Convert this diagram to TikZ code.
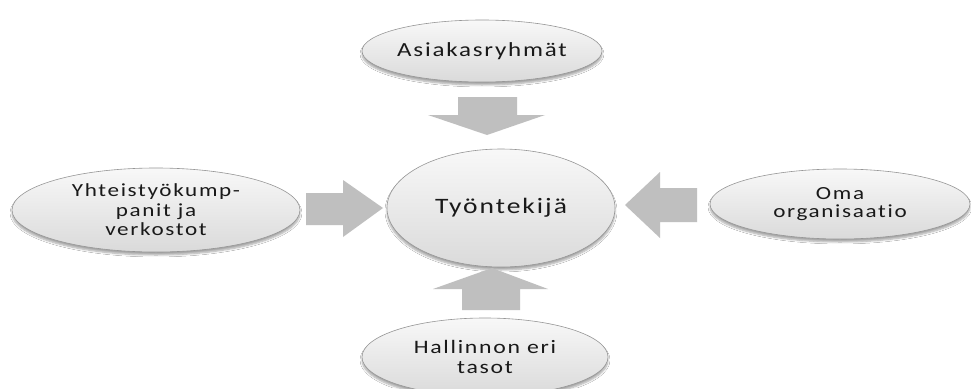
\documentclass[tikz,border=0pt]{standalone}
\usepackage{fontspec}
\setmainfont{Carlito}[FakeStretch=1.25,LetterSpace=9,Ligatures={NoCommon}]
\usetikzlibrary{shapes.geometric,shadows.blur}
\definecolor{arrowgray}{RGB}{191,191,191}
\definecolor{rimgray}{RGB}{150,150,150}
\definecolor{inkgray}{RGB}{25,25,25}
\definecolor{topfill}{RGB}{248,248,248}
\definecolor{bottomfill}{RGB}{218,218,218}
\begin{document}
\begin{tikzpicture}[x=1pt,y=-1pt,
  bubble/.style={ellipse, draw=rimgray, line width=0.6pt,
    top color=topfill, bottom color=bottomfill,
    blur shadow={shadow xshift=0pt, shadow yshift=-3pt, shadow blur steps=6, shadow opacity=35},
    text=inkgray, align=center, inner sep=0pt},
  blockarrow/.style={fill=arrowgray, draw=none}]
\useasboundingbox (0,0) rectangle (971,388);
\clip (0,0) rectangle (971,388);
\fill[white] (0,0) rectangle (971,388);

% surrounding bubbles
\node[bubble, minimum width=240pt, minimum height=62pt, font=\fontsize{20}{22}\selectfont]
  (asiakas) at (482,51) {Asiakasryhmät};
\node[bubble, minimum width=228pt, minimum height=118pt, font=\fontsize{22}{24}\selectfont]
  (tyontekija) at (501,208) {Työntekijä};
\node[bubble, minimum width=288pt, minimum height=84pt, font=\fontsize{18.5}{19.5}\selectfont]
  (yhteistyo) at (156,210) {Yhteistyökump-\\panit ja\\verkostot};
\node[bubble, minimum width=260pt, minimum height=70pt, font=\fontsize{18.5}{18}\selectfont]
  (oma) at (840,204) {Oma\\organisaatio};
\node[bubble, minimum width=246pt, minimum height=78pt, font=\fontsize{19}{19.5}\selectfont]
  (hallinto) at (485,357) {Hallinnon eri\\tasot};

% block arrows pointing at the centre bubble
\fill[blockarrow] (458,97) -- (517,97) -- (517,115) -- (545,115) -- (487,135)
  -- (428,115) -- (458,115) -- cycle;
\fill[blockarrow] (462,310) -- (520,310) -- (520,289) -- (548,289) -- (492,268)
  -- (433,289) -- (462,289) -- cycle;
\fill[blockarrow] (306,193) -- (343,193) -- (343,180) -- (383,208) -- (343,237)
  -- (343,225) -- (306,225) -- cycle;
\fill[blockarrow] (697,188) -- (660,188) -- (660,172) -- (625,205) -- (660,238)
  -- (660,222) -- (697,222) -- cycle;
\end{tikzpicture}
\end{document}
